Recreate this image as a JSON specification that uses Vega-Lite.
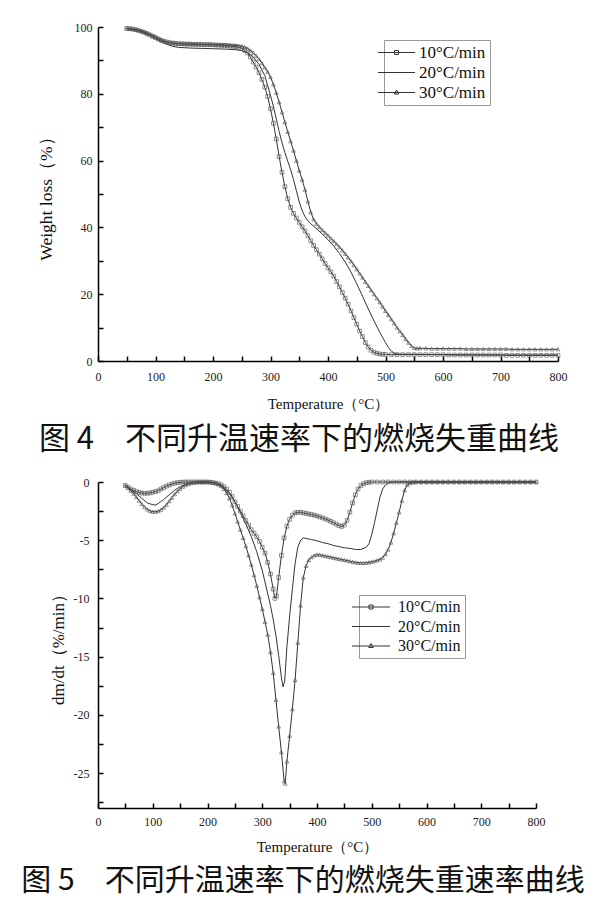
{
  "$schema": "https://vega.github.io/schema/vega-lite/v6.json",
  "padding": {"left": 21, "top": 21, "right": 0, "bottom": 0},
  "background": "white",
  "spacing": 121,
  "bounds": "flush",
  "config": {
    "view": {"stroke": null},
    "axis": {
      "grid": false,
      "domainColor": "#000",
      "domainWidth": 1.5,
      "tickColor": "#000",
      "tickWidth": 1.5,
      "tickSize": -5,
      "labelFont": "Liberation Serif",
      "labelFontSize": 12,
      "labelColor": "#222",
      "titleFont": "Liberation Serif",
      "titleFontSize": 15,
      "titleFontWeight": "normal",
      "titleColor": "#111"
    },
    "legend": {
      "labelFont": "Liberation Serif",
      "labelColor": "#111",
      "strokeColor": "#999",
      "padding": 4,
      "symbolStrokeWidth": 1,
      "symbolStrokeColor": "#333",
      "symbolFillColor": "transparent"
    }
  },
  "datasets": {
    "tg": [
      {"s":"10","t":50,"v":99.6},{"s":"10","t":55,"v":99.5},{"s":"10","t":60,"v":99.4},{"s":"10","t":65,"v":99.2},{"s":"10","t":70,"v":99.0},{"s":"10","t":75,"v":98.7},{"s":"10","t":80,"v":98.4},{"s":"10","t":85,"v":98.0},{"s":"10","t":90,"v":97.6},{"s":"10","t":95,"v":97.2},{"s":"10","t":100,"v":96.8},{"s":"10","t":105,"v":96.4},{"s":"10","t":110,"v":96.0},{"s":"10","t":115,"v":95.7},{"s":"10","t":120,"v":95.5},{"s":"10","t":125,"v":95.3},{"s":"10","t":130,"v":95.2},{"s":"10","t":135,"v":95.1},{"s":"10","t":140,"v":95.0},{"s":"10","t":145,"v":95.0},{"s":"10","t":150,"v":94.9},{"s":"10","t":155,"v":94.9},{"s":"10","t":160,"v":94.9},{"s":"10","t":165,"v":94.8},{"s":"10","t":170,"v":94.8},{"s":"10","t":175,"v":94.8},{"s":"10","t":180,"v":94.8},{"s":"10","t":185,"v":94.7},{"s":"10","t":190,"v":94.7},{"s":"10","t":195,"v":94.7},{"s":"10","t":200,"v":94.7},{"s":"10","t":205,"v":94.6},{"s":"10","t":210,"v":94.6},{"s":"10","t":215,"v":94.5},{"s":"10","t":220,"v":94.5},{"s":"10","t":225,"v":94.4},{"s":"10","t":230,"v":94.3},{"s":"10","t":235,"v":94.2},{"s":"10","t":240,"v":94.1},{"s":"10","t":245,"v":93.9},{"s":"10","t":250,"v":93.6},{"s":"10","t":255,"v":93.0},{"s":"10","t":260,"v":92.2},{"s":"10","t":265,"v":91.0},{"s":"10","t":270,"v":89.5},{"s":"10","t":275,"v":88.0},{"s":"10","t":280,"v":86.3},{"s":"10","t":285,"v":84.3},{"s":"10","t":290,"v":82.0},{"s":"10","t":295,"v":79.2},{"s":"10","t":300,"v":75.5},{"s":"10","t":305,"v":71.2},{"s":"10","t":310,"v":66.5},{"s":"10","t":315,"v":61.2},{"s":"10","t":320,"v":56.5},{"s":"10","t":325,"v":52.2},{"s":"10","t":330,"v":48.6},{"s":"10","t":335,"v":46.0},{"s":"10","t":340,"v":44.2},{"s":"10","t":345,"v":42.8},{"s":"10","t":350,"v":41.5},{"s":"10","t":355,"v":40.2},{"s":"10","t":360,"v":38.9},{"s":"10","t":365,"v":37.5},{"s":"10","t":370,"v":36.0},{"s":"10","t":375,"v":34.6},{"s":"10","t":380,"v":33.3},{"s":"10","t":385,"v":32.0},{"s":"10","t":390,"v":30.6},{"s":"10","t":395,"v":29.2},{"s":"10","t":400,"v":27.9},{"s":"10","t":405,"v":26.7},{"s":"10","t":410,"v":25.4},{"s":"10","t":415,"v":23.8},{"s":"10","t":420,"v":22.2},{"s":"10","t":425,"v":20.5},{"s":"10","t":430,"v":18.8},{"s":"10","t":435,"v":17.0},{"s":"10","t":440,"v":15.0},{"s":"10","t":445,"v":13.0},{"s":"10","t":450,"v":11.0},{"s":"10","t":455,"v":9.0},{"s":"10","t":460,"v":7.3},{"s":"10","t":465,"v":5.5},{"s":"10","t":470,"v":4.2},{"s":"10","t":475,"v":3.2},{"s":"10","t":480,"v":2.6},{"s":"10","t":485,"v":2.3},{"s":"10","t":490,"v":2.1},{"s":"10","t":495,"v":2.0},{"s":"10","t":500,"v":2.0},{"s":"10","t":510,"v":1.9},{"s":"10","t":520,"v":1.9},{"s":"10","t":530,"v":1.9},{"s":"10","t":540,"v":1.9},{"s":"10","t":550,"v":1.9},{"s":"10","t":560,"v":1.9},{"s":"10","t":570,"v":1.9},{"s":"10","t":580,"v":1.9},{"s":"10","t":590,"v":1.9},{"s":"10","t":600,"v":1.9},{"s":"10","t":610,"v":1.8},{"s":"10","t":620,"v":1.8},{"s":"10","t":630,"v":1.8},{"s":"10","t":640,"v":1.8},{"s":"10","t":650,"v":1.8},{"s":"10","t":660,"v":1.8},{"s":"10","t":670,"v":1.8},{"s":"10","t":680,"v":1.8},{"s":"10","t":690,"v":1.8},{"s":"10","t":700,"v":1.8},{"s":"10","t":710,"v":1.7},{"s":"10","t":720,"v":1.7},{"s":"10","t":730,"v":1.7},{"s":"10","t":740,"v":1.7},{"s":"10","t":750,"v":1.7},{"s":"10","t":760,"v":1.7},{"s":"10","t":770,"v":1.7},{"s":"10","t":780,"v":1.7},{"s":"10","t":790,"v":1.7},{"s":"10","t":800,"v":1.7},
      {"s":"20","t":50,"v":99.5},{"s":"20","t":60,"v":99.2},{"s":"20","t":70,"v":98.8},{"s":"20","t":80,"v":98.2},{"s":"20","t":90,"v":97.4},{"s":"20","t":100,"v":96.5},{"s":"20","t":110,"v":95.6},{"s":"20","t":120,"v":94.8},{"s":"20","t":130,"v":94.2},{"s":"20","t":140,"v":93.9},{"s":"20","t":160,"v":93.7},{"s":"20","t":180,"v":93.6},{"s":"20","t":200,"v":93.5},{"s":"20","t":220,"v":93.4},{"s":"20","t":240,"v":93.2},{"s":"20","t":250,"v":92.9},{"s":"20","t":260,"v":92.3},{"s":"20","t":270,"v":91.0},{"s":"20","t":280,"v":88.8},{"s":"20","t":290,"v":85.5},{"s":"20","t":300,"v":79.5},{"s":"20","t":305,"v":76.3},{"s":"20","t":310,"v":72.5},{"s":"20","t":315,"v":68.7},{"s":"20","t":320,"v":65.4},{"s":"20","t":325,"v":62.4},{"s":"20","t":330,"v":59.8},{"s":"20","t":335,"v":57.3},{"s":"20","t":340,"v":54.3},{"s":"20","t":345,"v":51.0},{"s":"20","t":350,"v":47.6},{"s":"20","t":355,"v":45.0},{"s":"20","t":360,"v":43.2},{"s":"20","t":365,"v":42.0},{"s":"20","t":370,"v":41.1},{"s":"20","t":380,"v":39.6},{"s":"20","t":390,"v":38.0},{"s":"20","t":400,"v":36.3},{"s":"20","t":410,"v":34.4},{"s":"20","t":420,"v":32.2},{"s":"20","t":430,"v":29.6},{"s":"20","t":440,"v":26.6},{"s":"20","t":450,"v":23.1},{"s":"20","t":460,"v":19.4},{"s":"20","t":470,"v":15.6},{"s":"20","t":480,"v":12.0},{"s":"20","t":490,"v":8.6},{"s":"20","t":500,"v":5.5},{"s":"20","t":505,"v":4.1},{"s":"20","t":510,"v":3.0},{"s":"20","t":515,"v":2.4},{"s":"20","t":520,"v":2.1},{"s":"20","t":530,"v":2.0},{"s":"20","t":550,"v":2.0},{"s":"20","t":600,"v":1.9},{"s":"20","t":700,"v":1.8},{"s":"20","t":800,"v":1.8},
      {"s":"30","t":50,"v":99.6},{"s":"30","t":55,"v":99.5},{"s":"30","t":60,"v":99.4},{"s":"30","t":65,"v":99.3},{"s":"30","t":70,"v":99.1},{"s":"30","t":75,"v":98.9},{"s":"30","t":80,"v":98.6},{"s":"30","t":85,"v":98.3},{"s":"30","t":90,"v":97.9},{"s":"30","t":95,"v":97.5},{"s":"30","t":100,"v":97.1},{"s":"30","t":105,"v":96.6},{"s":"30","t":110,"v":96.2},{"s":"30","t":115,"v":95.8},{"s":"30","t":120,"v":95.5},{"s":"30","t":125,"v":95.3},{"s":"30","t":130,"v":95.2},{"s":"30","t":135,"v":95.1},{"s":"30","t":140,"v":95.0},{"s":"30","t":145,"v":95.0},{"s":"30","t":150,"v":95.0},{"s":"30","t":155,"v":94.9},{"s":"30","t":160,"v":94.9},{"s":"30","t":165,"v":94.9},{"s":"30","t":170,"v":94.9},{"s":"30","t":175,"v":94.8},{"s":"30","t":180,"v":94.8},{"s":"30","t":185,"v":94.8},{"s":"30","t":190,"v":94.8},{"s":"30","t":195,"v":94.8},{"s":"30","t":200,"v":94.7},{"s":"30","t":205,"v":94.7},{"s":"30","t":210,"v":94.7},{"s":"30","t":215,"v":94.7},{"s":"30","t":220,"v":94.6},{"s":"30","t":225,"v":94.6},{"s":"30","t":230,"v":94.6},{"s":"30","t":235,"v":94.5},{"s":"30","t":240,"v":94.5},{"s":"30","t":245,"v":94.4},{"s":"30","t":250,"v":94.3},{"s":"30","t":255,"v":94.0},{"s":"30","t":260,"v":93.6},{"s":"30","t":265,"v":93.0},{"s":"30","t":270,"v":92.3},{"s":"30","t":275,"v":91.4},{"s":"30","t":280,"v":90.4},{"s":"30","t":285,"v":89.2},{"s":"30","t":290,"v":87.9},{"s":"30","t":295,"v":86.6},{"s":"30","t":300,"v":85.0},{"s":"30","t":305,"v":82.8},{"s":"30","t":310,"v":80.3},{"s":"30","t":315,"v":77.5},{"s":"30","t":320,"v":74.5},{"s":"30","t":325,"v":71.5},{"s":"30","t":330,"v":68.6},{"s":"30","t":335,"v":65.8},{"s":"30","t":340,"v":63.0},{"s":"30","t":345,"v":60.0},{"s":"30","t":350,"v":57.0},{"s":"30","t":355,"v":54.3},{"s":"30","t":360,"v":51.3},{"s":"30","t":365,"v":47.8},{"s":"30","t":370,"v":44.6},{"s":"30","t":375,"v":42.4},{"s":"30","t":380,"v":41.1},{"s":"30","t":385,"v":40.1},{"s":"30","t":390,"v":39.2},{"s":"30","t":395,"v":38.4},{"s":"30","t":400,"v":37.6},{"s":"30","t":405,"v":36.7},{"s":"30","t":410,"v":35.9},{"s":"30","t":415,"v":35.0},{"s":"30","t":420,"v":34.1},{"s":"30","t":425,"v":33.1},{"s":"30","t":430,"v":32.1},{"s":"30","t":435,"v":31.0},{"s":"30","t":440,"v":29.9},{"s":"30","t":445,"v":28.7},{"s":"30","t":450,"v":27.5},{"s":"30","t":455,"v":26.2},{"s":"30","t":460,"v":25.0},{"s":"30","t":465,"v":23.7},{"s":"30","t":470,"v":22.5},{"s":"30","t":475,"v":21.2},{"s":"30","t":480,"v":20.0},{"s":"30","t":485,"v":18.8},{"s":"30","t":490,"v":17.6},{"s":"30","t":495,"v":16.3},{"s":"30","t":500,"v":15.0},{"s":"30","t":505,"v":13.8},{"s":"30","t":510,"v":12.5},{"s":"30","t":515,"v":11.3},{"s":"30","t":520,"v":10.0},{"s":"30","t":525,"v":8.9},{"s":"30","t":530,"v":7.8},{"s":"30","t":535,"v":6.6},{"s":"30","t":540,"v":5.5},{"s":"30","t":545,"v":4.5},{"s":"30","t":550,"v":3.9},{"s":"30","t":555,"v":3.8},{"s":"30","t":560,"v":3.8},{"s":"30","t":570,"v":3.8},{"s":"30","t":580,"v":3.7},{"s":"30","t":590,"v":3.7},{"s":"30","t":600,"v":3.7},{"s":"30","t":610,"v":3.7},{"s":"30","t":620,"v":3.7},{"s":"30","t":630,"v":3.7},{"s":"30","t":640,"v":3.6},{"s":"30","t":650,"v":3.6},{"s":"30","t":660,"v":3.6},{"s":"30","t":670,"v":3.6},{"s":"30","t":680,"v":3.6},{"s":"30","t":690,"v":3.6},{"s":"30","t":700,"v":3.6},{"s":"30","t":710,"v":3.6},{"s":"30","t":720,"v":3.5},{"s":"30","t":730,"v":3.5},{"s":"30","t":740,"v":3.5},{"s":"30","t":750,"v":3.5},{"s":"30","t":760,"v":3.5},{"s":"30","t":770,"v":3.5},{"s":"30","t":780,"v":3.5},{"s":"30","t":790,"v":3.5},{"s":"30","t":800,"v":3.5}
    ],
    "dtg": [
      {"s":"10","t":50,"v":-0.3},{"s":"10","t":55,"v":-0.45},{"s":"10","t":60,"v":-0.6},{"s":"10","t":65,"v":-0.72},{"s":"10","t":70,"v":-0.82},{"s":"10","t":75,"v":-0.9},{"s":"10","t":80,"v":-0.95},{"s":"10","t":85,"v":-0.97},{"s":"10","t":90,"v":-0.97},{"s":"10","t":95,"v":-0.93},{"s":"10","t":100,"v":-0.88},{"s":"10","t":105,"v":-0.82},{"s":"10","t":110,"v":-0.75},{"s":"10","t":115,"v":-0.6},{"s":"10","t":120,"v":-0.48},{"s":"10","t":125,"v":-0.36},{"s":"10","t":130,"v":-0.26},{"s":"10","t":135,"v":-0.17},{"s":"10","t":140,"v":-0.1},{"s":"10","t":145,"v":-0.06},{"s":"10","t":150,"v":-0.03},{"s":"10","t":155,"v":-0.01},{"s":"10","t":160,"v":0},{"s":"10","t":165,"v":0},{"s":"10","t":170,"v":0},{"s":"10","t":175,"v":0},{"s":"10","t":180,"v":0},{"s":"10","t":185,"v":0},{"s":"10","t":190,"v":0},{"s":"10","t":195,"v":0},{"s":"10","t":200,"v":0},{"s":"10","t":205,"v":-0.02},{"s":"10","t":210,"v":-0.05},{"s":"10","t":215,"v":-0.1},{"s":"10","t":220,"v":-0.15},{"s":"10","t":225,"v":-0.25},{"s":"10","t":230,"v":-0.4},{"s":"10","t":235,"v":-0.6},{"s":"10","t":240,"v":-0.9},{"s":"10","t":245,"v":-1.25},{"s":"10","t":250,"v":-1.7},{"s":"10","t":255,"v":-2.1},{"s":"10","t":260,"v":-2.5},{"s":"10","t":265,"v":-2.9},{"s":"10","t":270,"v":-3.3},{"s":"10","t":275,"v":-3.7},{"s":"10","t":280,"v":-4.1},{"s":"10","t":285,"v":-4.4},{"s":"10","t":290,"v":-4.7},{"s":"10","t":295,"v":-5.1},{"s":"10","t":300,"v":-5.6},{"s":"10","t":305,"v":-6.1},{"s":"10","t":310,"v":-6.9},{"s":"10","t":315,"v":-7.9},{"s":"10","t":320,"v":-9.2},{"s":"10","t":323,"v":-10.0},{"s":"10","t":326,"v":-9.8},{"s":"10","t":330,"v":-8.2},{"s":"10","t":335,"v":-6.3},{"s":"10","t":340,"v":-4.8},{"s":"10","t":345,"v":-3.8},{"s":"10","t":350,"v":-3.2},{"s":"10","t":355,"v":-2.85},{"s":"10","t":360,"v":-2.65},{"s":"10","t":365,"v":-2.6},{"s":"10","t":370,"v":-2.6},{"s":"10","t":375,"v":-2.65},{"s":"10","t":380,"v":-2.7},{"s":"10","t":385,"v":-2.75},{"s":"10","t":390,"v":-2.8},{"s":"10","t":395,"v":-2.85},{"s":"10","t":400,"v":-2.92},{"s":"10","t":405,"v":-3.0},{"s":"10","t":410,"v":-3.08},{"s":"10","t":415,"v":-3.17},{"s":"10","t":420,"v":-3.27},{"s":"10","t":425,"v":-3.38},{"s":"10","t":430,"v":-3.5},{"s":"10","t":435,"v":-3.62},{"s":"10","t":440,"v":-3.74},{"s":"10","t":445,"v":-3.82},{"s":"10","t":450,"v":-3.7},{"s":"10","t":455,"v":-3.3},{"s":"10","t":460,"v":-2.6},{"s":"10","t":465,"v":-1.8},{"s":"10","t":470,"v":-1.1},{"s":"10","t":475,"v":-0.6},{"s":"10","t":480,"v":-0.3},{"s":"10","t":485,"v":-0.15},{"s":"10","t":490,"v":-0.06},{"s":"10","t":495,"v":-0.02},{"s":"10","t":500,"v":0},{"s":"10","t":510,"v":0},{"s":"10","t":520,"v":0},{"s":"10","t":530,"v":0},{"s":"10","t":540,"v":0},{"s":"10","t":550,"v":0},{"s":"10","t":560,"v":0},{"s":"10","t":570,"v":0},{"s":"10","t":580,"v":0},{"s":"10","t":590,"v":0},{"s":"10","t":600,"v":0},{"s":"10","t":610,"v":0},{"s":"10","t":620,"v":0},{"s":"10","t":630,"v":0},{"s":"10","t":640,"v":0},{"s":"10","t":650,"v":0},{"s":"10","t":660,"v":0},{"s":"10","t":670,"v":0},{"s":"10","t":680,"v":0},{"s":"10","t":690,"v":0},{"s":"10","t":700,"v":0},{"s":"10","t":710,"v":0},{"s":"10","t":720,"v":0},{"s":"10","t":730,"v":0},{"s":"10","t":740,"v":0},{"s":"10","t":750,"v":0},{"s":"10","t":760,"v":0},{"s":"10","t":770,"v":0},{"s":"10","t":780,"v":0},{"s":"10","t":790,"v":0},{"s":"10","t":800,"v":0},
      {"s":"20","t":50,"v":-0.3},{"s":"20","t":60,"v":-0.65},{"s":"20","t":70,"v":-1.0},{"s":"20","t":80,"v":-1.4},{"s":"20","t":90,"v":-1.8},{"s":"20","t":100,"v":-1.95},{"s":"20","t":105,"v":-1.97},{"s":"20","t":110,"v":-1.85},{"s":"20","t":120,"v":-1.5},{"s":"20","t":130,"v":-1.1},{"s":"20","t":140,"v":-0.7},{"s":"20","t":150,"v":-0.4},{"s":"20","t":160,"v":-0.2},{"s":"20","t":170,"v":-0.08},{"s":"20","t":180,"v":-0.02},{"s":"20","t":190,"v":0},{"s":"20","t":200,"v":0},{"s":"20","t":210,"v":-0.05},{"s":"20","t":220,"v":-0.2},{"s":"20","t":230,"v":-0.5},{"s":"20","t":240,"v":-1.0},{"s":"20","t":250,"v":-1.7},{"s":"20","t":260,"v":-2.6},{"s":"20","t":270,"v":-3.6},{"s":"20","t":280,"v":-4.7},{"s":"20","t":290,"v":-6.0},{"s":"20","t":300,"v":-7.6},{"s":"20","t":305,"v":-8.6},{"s":"20","t":310,"v":-9.6},{"s":"20","t":315,"v":-10.6},{"s":"20","t":320,"v":-11.8},{"s":"20","t":325,"v":-13.2},{"s":"20","t":330,"v":-14.9},{"s":"20","t":335,"v":-16.8},{"s":"20","t":338,"v":-17.6},{"s":"20","t":341,"v":-17.1},{"s":"20","t":345,"v":-14.2},{"s":"20","t":350,"v":-11.5},{"s":"20","t":355,"v":-9.2},{"s":"20","t":360,"v":-7.0},{"s":"20","t":365,"v":-5.6},{"s":"20","t":370,"v":-5.0},{"s":"20","t":375,"v":-4.8},{"s":"20","t":380,"v":-4.85},{"s":"20","t":390,"v":-4.95},{"s":"20","t":400,"v":-5.05},{"s":"20","t":410,"v":-5.2},{"s":"20","t":420,"v":-5.3},{"s":"20","t":430,"v":-5.45},{"s":"20","t":440,"v":-5.55},{"s":"20","t":450,"v":-5.65},{"s":"20","t":460,"v":-5.7},{"s":"20","t":470,"v":-5.8},{"s":"20","t":480,"v":-5.8},{"s":"20","t":490,"v":-5.6},{"s":"20","t":495,"v":-5.3},{"s":"20","t":500,"v":-4.5},{"s":"20","t":505,"v":-3.5},{"s":"20","t":510,"v":-2.4},{"s":"20","t":515,"v":-1.3},{"s":"20","t":520,"v":-0.6},{"s":"20","t":525,"v":-0.25},{"s":"20","t":530,"v":-0.08},{"s":"20","t":535,"v":-0.02},{"s":"20","t":540,"v":0},{"s":"20","t":800,"v":0},
      {"s":"30","t":50,"v":-0.3},{"s":"30","t":55,"v":-0.5},{"s":"30","t":60,"v":-0.75},{"s":"30","t":65,"v":-1.0},{"s":"30","t":70,"v":-1.3},{"s":"30","t":75,"v":-1.6},{"s":"30","t":80,"v":-1.9},{"s":"30","t":85,"v":-2.15},{"s":"30","t":90,"v":-2.35},{"s":"30","t":95,"v":-2.48},{"s":"30","t":100,"v":-2.55},{"s":"30","t":105,"v":-2.55},{"s":"30","t":110,"v":-2.5},{"s":"30","t":115,"v":-2.38},{"s":"30","t":120,"v":-2.2},{"s":"30","t":125,"v":-1.95},{"s":"30","t":130,"v":-1.65},{"s":"30","t":135,"v":-1.35},{"s":"30","t":140,"v":-1.05},{"s":"30","t":145,"v":-0.8},{"s":"30","t":150,"v":-0.58},{"s":"30","t":155,"v":-0.4},{"s":"30","t":160,"v":-0.27},{"s":"30","t":165,"v":-0.17},{"s":"30","t":170,"v":-0.1},{"s":"30","t":175,"v":-0.05},{"s":"30","t":180,"v":-0.02},{"s":"30","t":185,"v":0},{"s":"30","t":190,"v":0},{"s":"30","t":195,"v":0},{"s":"30","t":200,"v":0},{"s":"30","t":205,"v":0},{"s":"30","t":210,"v":-0.05},{"s":"30","t":215,"v":-0.1},{"s":"30","t":220,"v":-0.2},{"s":"30","t":225,"v":-0.35},{"s":"30","t":230,"v":-0.6},{"s":"30","t":235,"v":-0.95},{"s":"30","t":240,"v":-1.4},{"s":"30","t":245,"v":-2.0},{"s":"30","t":250,"v":-2.7},{"s":"30","t":255,"v":-3.4},{"s":"30","t":260,"v":-4.1},{"s":"30","t":265,"v":-4.8},{"s":"30","t":270,"v":-5.5},{"s":"30","t":275,"v":-6.3},{"s":"30","t":280,"v":-7.1},{"s":"30","t":285,"v":-8.0},{"s":"30","t":290,"v":-8.9},{"s":"30","t":295,"v":-9.9},{"s":"30","t":300,"v":-10.9},{"s":"30","t":305,"v":-12.0},{"s":"30","t":310,"v":-13.1},{"s":"30","t":315,"v":-14.6},{"s":"30","t":320,"v":-16.4},{"s":"30","t":325,"v":-18.7},{"s":"30","t":330,"v":-21.0},{"s":"30","t":335,"v":-23.2},{"s":"30","t":340,"v":-25.7},{"s":"30","t":342,"v":-25.9},{"s":"30","t":345,"v":-24.0},{"s":"30","t":350,"v":-21.8},{"s":"30","t":355,"v":-19.5},{"s":"30","t":360,"v":-17.0},{"s":"30","t":365,"v":-13.8},{"s":"30","t":370,"v":-10.6},{"s":"30","t":375,"v":-8.2},{"s":"30","t":380,"v":-7.2},{"s":"30","t":385,"v":-6.7},{"s":"30","t":390,"v":-6.45},{"s":"30","t":395,"v":-6.3},{"s":"30","t":400,"v":-6.25},{"s":"30","t":405,"v":-6.25},{"s":"30","t":410,"v":-6.3},{"s":"30","t":415,"v":-6.35},{"s":"30","t":420,"v":-6.4},{"s":"30","t":425,"v":-6.45},{"s":"30","t":430,"v":-6.5},{"s":"30","t":435,"v":-6.55},{"s":"30","t":440,"v":-6.6},{"s":"30","t":445,"v":-6.65},{"s":"30","t":450,"v":-6.7},{"s":"30","t":455,"v":-6.75},{"s":"30","t":460,"v":-6.8},{"s":"30","t":465,"v":-6.85},{"s":"30","t":470,"v":-6.9},{"s":"30","t":475,"v":-6.93},{"s":"30","t":480,"v":-6.95},{"s":"30","t":485,"v":-6.95},{"s":"30","t":490,"v":-6.93},{"s":"30","t":495,"v":-6.9},{"s":"30","t":500,"v":-6.85},{"s":"30","t":505,"v":-6.8},{"s":"30","t":510,"v":-6.72},{"s":"30","t":515,"v":-6.65},{"s":"30","t":520,"v":-6.5},{"s":"30","t":525,"v":-6.2},{"s":"30","t":530,"v":-5.8},{"s":"30","t":535,"v":-5.2},{"s":"30","t":540,"v":-4.4},{"s":"30","t":545,"v":-3.5},{"s":"30","t":550,"v":-2.6},{"s":"30","t":555,"v":-1.6},{"s":"30","t":560,"v":-0.7},{"s":"30","t":565,"v":-0.25},{"s":"30","t":570,"v":-0.08},{"s":"30","t":575,"v":-0.02},{"s":"30","t":580,"v":0},{"s":"30","t":590,"v":0},{"s":"30","t":600,"v":0},{"s":"30","t":610,"v":0},{"s":"30","t":620,"v":0},{"s":"30","t":630,"v":0},{"s":"30","t":640,"v":0},{"s":"30","t":650,"v":0},{"s":"30","t":660,"v":0},{"s":"30","t":670,"v":0},{"s":"30","t":680,"v":0},{"s":"30","t":690,"v":0},{"s":"30","t":700,"v":0},{"s":"30","t":710,"v":0},{"s":"30","t":720,"v":0},{"s":"30","t":730,"v":0},{"s":"30","t":740,"v":0},{"s":"30","t":750,"v":0},{"s":"30","t":760,"v":0},{"s":"30","t":770,"v":0},{"s":"30","t":780,"v":0},{"s":"30","t":790,"v":0},{"s":"30","t":800,"v":0}
    ]
  },
  "vconcat": [
    {
      "width": 460,
      "height": 334,
      "data": {"name": "tg"},
      "title": {"text": "图 4　不同升温速率下的燃烧失重曲线", "orient": "bottom", "frame": "group", "anchor": "middle", "dx": -29, "offset": 14, "font": "Noto Sans CJK SC", "fontSize": 31, "fontWeight": "normal", "color": "#111"},
      "encoding": {
        "x": {"field": "t", "type": "quantitative", "scale": {"domain": [0, 800], "nice": false},
          "axis": {"title": "Temperature（°C）", "values": [0,50,100,150,200,250,300,350,400,450,500,550,600,650,700,750,800], "labelExpr": "datum.value % 100 == 0 ? datum.label : ''", "labelPadding": 15, "titlePadding": 14, "labelFlush": false}},
        "y": {"field": "v", "type": "quantitative", "scale": {"domain": [0, 100], "nice": false, "zero": false},
          "axis": {"title": "Weight loss（%）", "titleFontSize": 17.5, "values": [0,10,20,30,40,50,60,70,80,90,100], "labelExpr": "datum.value % 20 == 0 ? datum.label : ''", "labelPadding": 11, "titlePadding": 19}}
      },
      "layer": [
        {
          "mark": {"type": "line", "strokeWidth": 1},
          "encoding": {
            "color": {"field": "s", "type": "nominal", "scale": {"domain": ["10", "20", "30"], "range": ["#333", "#333", "#333"]},
              "legend": {"title": null, "orient": "none", "legendX": 286, "legendY": 13, "labelExpr": "datum.value + '°C/min'", "labelFontSize": 17, "symbolSize": 100, "labelOffset": 14, "rowPadding": 2, "padding": 4,
                "encode": {"symbols": {"update": {"shape": {"signal": "datum.value == '10' ? 'M-3.7,0H3.7M-0.4,-0.4H0.4V0.4H-0.4Z' : (datum.value == '30' ? 'M-3.7,0H3.7M0,-0.5L0.45,0.3H-0.45Z' : 'M-3.7,0H3.7')"}}}}}}
          }
        },
        {
          "transform": [{"filter": "datum.s != '20'"}],
          "mark": {"type": "point", "filled": false, "size": 14, "strokeWidth": 0.7, "color": "#555", "opacity": 0.9},
          "encoding": {
            "shape": {"field": "s", "type": "nominal", "scale": {"domain": ["10", "30"], "range": ["square", "triangle-up"]}, "legend": null}
          }
        }
      ]
    },
    {
      "width": 438,
      "height": 326,
      "data": {"name": "dtg"},
      "title": {"text": "图 5　不同升温速率下的燃烧失重速率曲线", "orient": "bottom", "frame": "group", "anchor": "middle", "dx": -14, "offset": 12, "font": "Noto Sans CJK SC", "fontSize": 30, "fontWeight": "normal", "color": "#111"},
      "encoding": {
        "x": {"field": "t", "type": "quantitative", "scale": {"domain": [0, 800], "nice": false},
          "axis": {"title": "Temperature（°C）", "values": [0,50,100,150,200,250,300,350,400,450,500,550,600,650,700,750,800], "labelExpr": "datum.value % 100 == 0 ? datum.label : ''", "labelPadding": 13, "titlePadding": 12, "labelFlush": false}},
        "y": {"field": "v", "type": "quantitative", "scale": {"domain": [-28, 0], "nice": false, "zero": false},
          "axis": {"title": "dm/dt（%/min）", "titleFontSize": 17, "values": [0,-2.5,-5,-7.5,-10,-12.5,-15,-17.5,-20,-22.5,-25,-27.5], "labelExpr": "datum.value % 5 == 0 ? '' + datum.value : ''", "labelPadding": 14, "titlePadding": 6}}
      },
      "layer": [
        {
          "mark": {"type": "line", "strokeWidth": 1},
          "encoding": {
            "color": {"field": "s", "type": "nominal", "scale": {"domain": ["10", "20", "30"], "range": ["#333", "#333", "#333"]},
              "legend": {"title": null, "orient": "none", "legendX": 261, "legendY": 113, "labelExpr": "datum.value + '°C/min'", "labelFontSize": 16, "symbolSize": 100, "labelOffset": 19, "rowPadding": 3.5, "padding": 4,
                "encode": {"symbols": {"update": {"shape": {"signal": "datum.value == '10' ? 'M-3.8,0H3.8M-0.4,-0.4H0.4V0.4H-0.4Z' : (datum.value == '30' ? 'M-3.8,0H3.8M0,-0.5L0.45,0.3H-0.45Z' : 'M-3.8,0H3.8')"}}}}}}
          }
        },
        {
          "transform": [{"filter": "datum.s != '20'"}],
          "mark": {"type": "point", "filled": false, "size": 14, "strokeWidth": 0.7, "color": "#555", "opacity": 0.9},
          "encoding": {
            "shape": {"field": "s", "type": "nominal", "scale": {"domain": ["10", "30"], "range": ["square", "triangle-up"]}, "legend": null}
          }
        }
      ]
    }
  ],
  "resolve": {"scale": {"color": "independent", "shape": "independent"}}
}
